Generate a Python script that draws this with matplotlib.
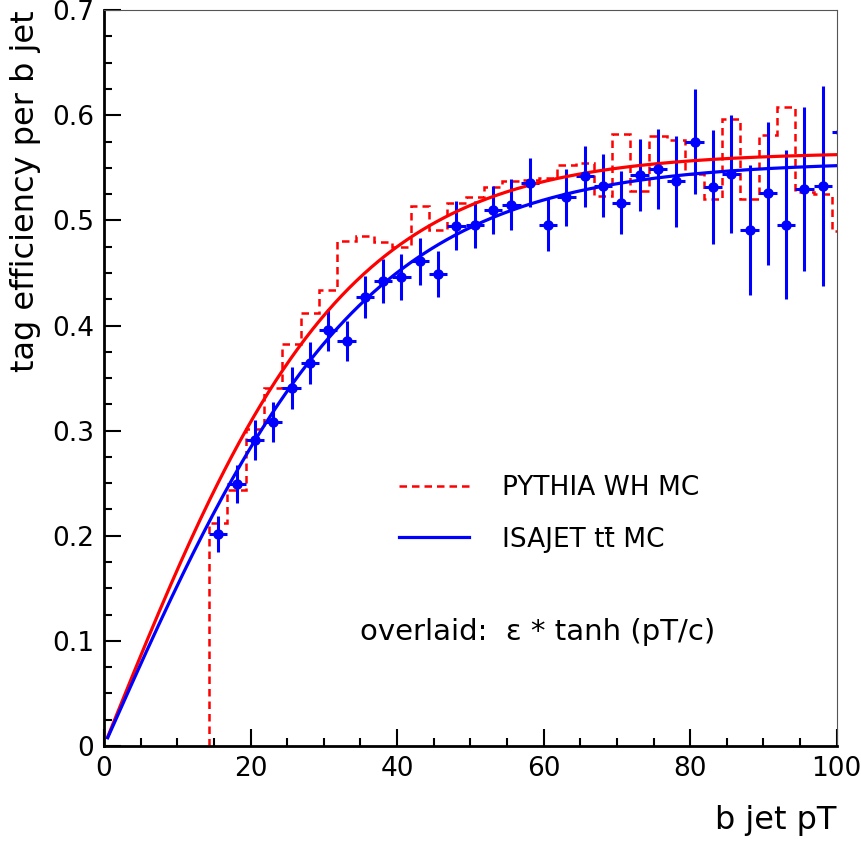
import numpy as np
import matplotlib
matplotlib.use('Agg')
import matplotlib.pyplot as plt
from matplotlib.ticker import MultipleLocator
from matplotlib.lines import Line2D

# ISAJET ttbar points (bin centres, efficiency, error)
pt_centres = [15.6, 18.1, 20.6, 23.1, 25.6, 28.1, 30.6, 33.1, 35.6, 38.1,
              40.6, 43.1, 45.6, 48.1, 50.6, 53.1, 55.6, 58.1, 60.6, 63.1,
              65.6, 68.1, 70.6, 73.1, 75.6, 78.1, 80.6, 83.1, 85.6, 88.1,
              90.6, 93.1, 95.6, 98.1, 100.6]
isajet_eff = [0.202, 0.249, 0.291, 0.308, 0.341, 0.364, 0.396, 0.385, 0.427, 0.442,
              0.446, 0.461, 0.449, 0.495, 0.496, 0.510, 0.515, 0.536, 0.496, 0.522,
              0.542, 0.533, 0.517, 0.543, 0.549, 0.537, 0.575, 0.532, 0.544, 0.491,
              0.526, 0.496, 0.530, 0.533, 0.584]
isajet_err = [0.017, 0.018, 0.019, 0.019, 0.020, 0.020, 0.020, 0.019, 0.020, 0.021,
              0.022, 0.022, 0.022, 0.023, 0.022, 0.023, 0.024, 0.023, 0.025, 0.027,
              0.029, 0.030, 0.030, 0.034, 0.038, 0.043, 0.050, 0.054, 0.056, 0.062,
              0.068, 0.071, 0.078, 0.095, 0.100]
bin_halfwidth = 1.25

# PYTHIA WH histogram (bin edges and contents)
pythia_edges = [14.35 + 2.5 * i for i in range(36)]
pythia_eff = [0.212, 0.244, 0.302, 0.341, 0.382, 0.412, 0.434, 0.480, 0.485, 0.479,
              0.475, 0.514, 0.491, 0.517, 0.522, 0.532, 0.537, 0.538, 0.540, 0.553,
              0.555, 0.523, 0.582, 0.528, 0.580, 0.576, 0.544, 0.520, 0.596, 0.520,
              0.581, 0.608, 0.527, 0.525, 0.490]

# fit parameters for eps * tanh(pT / c)
pythia_fit = (0.565, 32.7)
isajet_fit = (0.556, 35.5)

dash = (0, (3, 2))

fig = plt.figure(figsize=(8.61, 8.44), dpi=100)
ax = fig.add_axes([0.1208, 0.1161, 0.851, 0.8719])

ax.stairs(pythia_eff, pythia_edges, baseline=0, color='red', lw=1.8, linestyle=dash)

ax.errorbar(pt_centres, isajet_eff, yerr=isajet_err, xerr=bin_halfwidth,
            fmt='o', color='blue', ms=6.5, elinewidth=2.2, capsize=0)

x = np.linspace(0.5, 100, 300)
ax.plot(x, pythia_fit[0] * np.tanh(x / pythia_fit[1]), color='red', lw=2.3)
ax.plot(x, isajet_fit[0] * np.tanh(x / isajet_fit[1]), color='blue', lw=2.3)

ax.set_xlim(0, 100)
ax.set_ylim(0, 0.7)
ax.xaxis.set_major_locator(MultipleLocator(20))
ax.xaxis.set_minor_locator(MultipleLocator(5))
ax.yaxis.set_major_locator(MultipleLocator(0.1))
ax.yaxis.set_minor_locator(MultipleLocator(0.025))
ax.xaxis.set_major_formatter(plt.FuncFormatter(lambda v, p: f"{v:g}"))
ax.yaxis.set_major_formatter(plt.FuncFormatter(lambda v, p: f"{v:g}"))
ax.tick_params(which='both', direction='in', top=False, right=False, width=1.5,
               labelsize=19, pad=7)
ax.tick_params(which='major', length=12)
ax.tick_params(which='minor', length=6)

for s in ['left', 'bottom']:
    ax.spines[s].set_linewidth(2)
for s in ['top', 'right']:
    ax.spines[s].set_linewidth(0.8)
    ax.spines[s].set_color('#555555')

ax.set_xlabel('b jet pT', fontsize=23, loc='right', labelpad=17)
ax.set_ylabel('tag efficiency per b jet', fontsize=23, loc='top', labelpad=8)

handles = [Line2D([], [], color='red', lw=1.8, linestyle=dash),
           Line2D([], [], color='blue', lw=2.3)]
ax.legend(handles, ['PYTHIA WH MC', 'ISAJET t' + 't\u0304' + ' MC'],
          loc='upper left', bbox_to_anchor=(0.37, 0.40), frameon=False,
          fontsize=19, handlelength=2.65, handletextpad=1.25, labelspacing=0.95)

ax.text(0.35, 0.155, 'overlaid:  \u03b5 * tanh (pT/c)', transform=ax.transAxes,
        fontsize=21, va='center', ha='left')

fig.savefig('out.png', dpi=100)
